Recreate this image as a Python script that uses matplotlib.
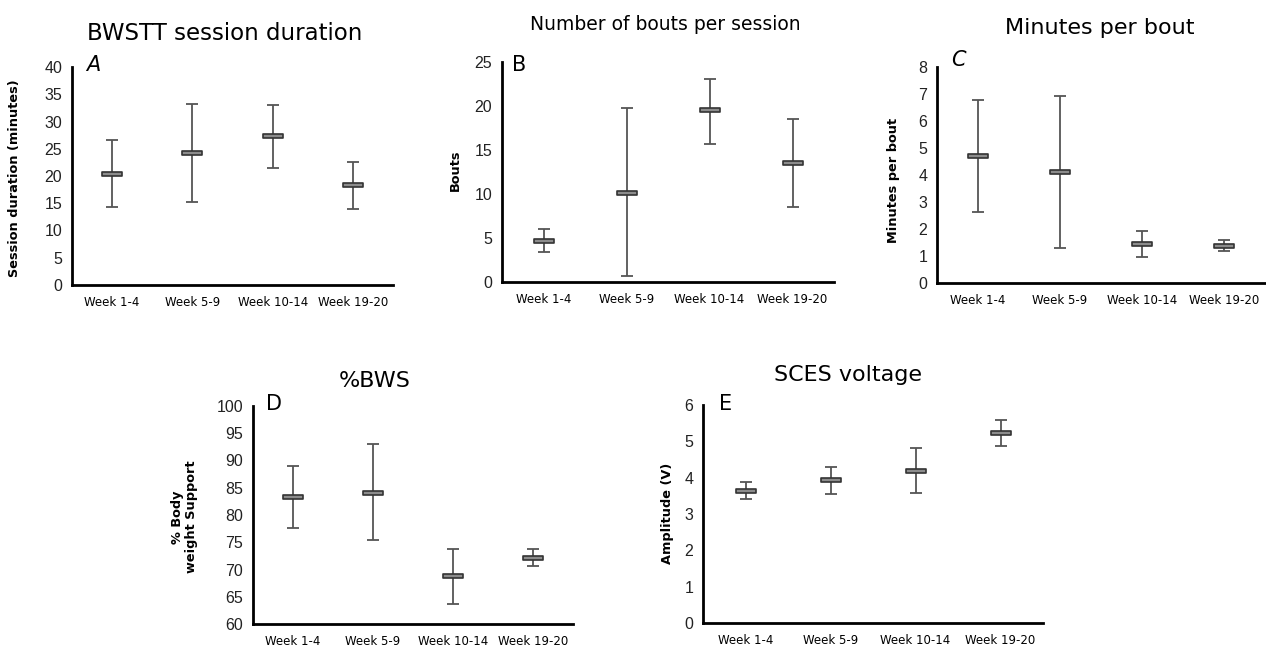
import matplotlib
matplotlib.use("Agg")
import matplotlib.pyplot as plt
from matplotlib.path import Path
import numpy as np

W, H = 1266, 652
weeks = ["Week 1-4", "Week 5-9", "Week 10-14", "Week 19-20"]

# Panel A: session duration (minutes)
a_mean = [20.4, 24.3, 27.3, 18.3]
a_low = [14.3, 15.3, 21.5, 14.0]
a_high = [26.6, 33.3, 33.1, 22.6]
# Panel B: bouts per session
b_mean = [4.7, 10.1, 19.5, 13.5]
b_low = [3.45, 0.65, 15.7, 8.5]
b_high = [6.0, 19.8, 23.1, 18.5]
# Panel C: minutes per bout
c_mean = [4.70, 4.10, 1.45, 1.38]
c_low = [2.62, 1.29, 0.98, 1.18]
c_high = [6.77, 6.92, 1.91, 1.60]
# Panel D: %BWS
d_mean = [83.3, 84.1, 68.8, 72.1]
d_low = [77.7, 75.4, 63.7, 70.6]
d_high = [89.0, 93.0, 73.8, 73.8]
# Panel E: SCES voltage
e_mean = [3.64, 3.93, 4.18, 5.22]
e_low = [3.42, 3.54, 3.59, 4.88]
e_high = [3.89, 4.30, 4.81, 5.59]

fig = plt.figure(figsize=(W / 100, H / 100), dpi=100)

def rect(l, t, r, b):
    return [l / W, 1 - b / H, (r - l) / W, (b - t) / H]

def fx(x):
    return x / W

def fy(y):
    return 1 - y / H

TITLE_FONT = ["DejaVu Sans"]
NUM_FONT = ["Liberation Sans", "DejaVu Sans"]

marker = Path([(-1, -0.24), (1, -0.24), (1, 0.24), (-1, 0.24), (-1, -0.24)],
              [Path.MOVETO, Path.LINETO, Path.LINETO, Path.LINETO, Path.CLOSEPOLY])

def panel(box, mean, low, high, ymax, ystep, ymin=0):
    ax = fig.add_axes(rect(*box))
    x = np.arange(len(weeks))
    mean = np.array(mean); low = np.array(low); high = np.array(high)
    ax.errorbar(x, mean, yerr=[mean - low, high - mean], fmt="none",
                ecolor="#555555", elinewidth=1.3, capsize=4, capthick=1.3, zorder=2)
    ax.plot(x, mean, linestyle="none", marker=marker, markersize=15,
            markerfacecolor="#8c8c8c", markeredgecolor="#333333",
            markeredgewidth=1.2, zorder=3)
    ax.set_xlim(-0.5, len(weeks) - 0.5)
    ax.set_ylim(ymin, ymax)
    ticks = np.arange(ymin, ymax + ystep / 2, ystep)
    ax.set_yticks(ticks)
    ax.set_yticklabels([f"{v:g}" for v in ticks],
                       fontfamily=NUM_FONT, fontsize=11.5, color="#222222")
    ax.set_xticks(x)
    ax.set_xticklabels(weeks, fontfamily=TITLE_FONT, fontsize=8.5)
    ax.tick_params(axis="both", length=0)
    ax.tick_params(axis="y", pad=7)
    ax.tick_params(axis="x", pad=8)
    for s in ["top", "right"]:
        ax.spines[s].set_visible(False)
    ax.spines["left"].set_linewidth(2.0)
    ax.spines["bottom"].set_linewidth(2.0)
    ax.patch.set_alpha(0)
    return ax

panel((72, 67, 393, 285), a_mean, a_low, a_high, 40, 5)
panel((502, 62, 834, 282), b_mean, b_low, b_high, 25, 5)
panel((937, 67, 1265, 283), c_mean, c_low, c_high, 8, 1)
panel((253, 406, 573, 624), d_mean, d_low, d_high, 100, 5, ymin=60)
panel((703, 405, 1043, 623), e_mean, e_low, e_high, 6, 1)

# titles
titles = [
    ("BWSTT session duration", 225, 33, 16.5),
    ("Number of bouts per session", 665, 24, 13.5),
    ("Minutes per bout", 1100, 28, 16),
    ("%BWS", 375, 381, 16),
    ("SCES voltage", 848, 375, 16),
]
for t, x, y, s in titles:
    fig.text(fx(x), fy(y), t, ha="center", va="center", fontsize=s,
             fontfamily=TITLE_FONT)

# panel letters
letters = [("A", 93, 65, "italic"), ("B", 519, 65, "normal"), ("C", 958, 60, "italic"),
           ("D", 274, 404, "normal"), ("E", 726, 404, "normal")]
for t, x, y, st in letters:
    fig.text(fx(x), fy(y), t, ha="center", va="center", fontsize=15,
             fontstyle=st, fontfamily=TITLE_FONT)

# y labels
ylabels = [
    ("Session duration (minutes)", 15, 178),
    ("Bouts", 455, 170),
    ("Minutes per bout", 893, 180),
    ("% Body\nweight Support", 185, 517),
    ("Amplitude (V)", 667, 513),
]
for t, x, y in ylabels:
    fig.text(fx(x), fy(y), t, ha="center", va="center", rotation=90,
             fontsize=9.3, fontweight="bold", fontfamily=TITLE_FONT,
             linespacing=1.1)

fig.savefig("out.png", dpi=100, facecolor="white")
